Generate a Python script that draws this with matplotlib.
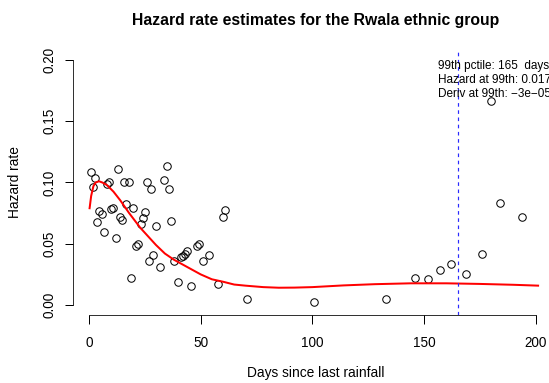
import numpy as np
import matplotlib
matplotlib.use("Agg")
import matplotlib.pyplot as plt

plt.rcParams["font.family"] = ["Liberation Sans", "DejaVu Sans"]

# observed hazard estimates (days since last rainfall, hazard)
days = [0.9, 2.9, 2.0, 13.0, 35.0, 8.1, 9.1, 15.9, 18.0, 25.8, 27.9, 33.8, 36.0,
        4.7, 5.8, 3.8, 9.8, 10.9, 13.8, 14.9, 16.7, 19.7, 24.9, 24.2, 23.5,
        6.8, 11.9, 29.9, 36.9, 21.1, 22.0, 28.8, 27.0, 31.8, 37.9, 41.0, 42.3,
        43.2, 44.1, 48.2, 49.1, 50.9, 53.9, 18.8, 40.0, 45.6, 57.9, 59.9, 61.1,
        70.9, 100.8, 132.9, 146.0, 151.8, 157.0, 161.9, 168.8, 175.8, 179.9,
        183.9, 193.9]
hazard = [0.1086, 0.1037, 0.0963, 0.1108, 0.1135, 0.0988, 0.1002, 0.1002, 0.1002,
          0.1000, 0.0945, 0.1018, 0.0943, 0.0766, 0.0745, 0.0676, 0.0782, 0.0792,
          0.0717, 0.0691, 0.0824, 0.0788, 0.0762, 0.0712, 0.0665, 0.0600, 0.0543,
          0.0641, 0.0682, 0.0478, 0.0500, 0.0408, 0.0361, 0.0310, 0.0361, 0.0392,
          0.0404, 0.0420, 0.0438, 0.0478, 0.0502, 0.0363, 0.0406, 0.0218, 0.0186,
          0.0155, 0.0169, 0.0716, 0.0773, 0.0047, 0.0022, 0.0049, 0.0223, 0.0210,
          0.0288, 0.0337, 0.0253, 0.0419, 0.1668, 0.0835, 0.0716]

# smoothed hazard curve
fit_days = [0.3, 1, 2, 3, 4.5, 6, 8, 11, 14, 18, 23, 27, 30, 34, 38, 42, 46, 50,
            55, 60, 65, 70, 78, 85, 92, 100, 114, 128, 144, 160, 175, 190, 201]
fit_haz = [0.079, 0.089, 0.097, 0.100, 0.101, 0.100, 0.098, 0.0925, 0.0855, 0.075,
           0.063, 0.055, 0.049, 0.042, 0.037, 0.033, 0.029, 0.025, 0.021, 0.019,
           0.0167, 0.0158, 0.0146, 0.0141, 0.0142, 0.0146, 0.0160, 0.0170, 0.0177,
           0.0177, 0.0172, 0.0165, 0.0158]

p99 = 165
notes = ["99th pctile: 165  days", "Hazard at 99th: 0.017", "Deriv at 99th: \u22123e\u221205"]

fig = plt.figure(figsize=(549 / 72, 383 / 72), dpi=72)
# plot region runs past the right edge of the picture, as in the original
ax = fig.add_axes([72.7 / 549, 1 - 314.8 / 383, (559 - 72.7) / 549, (314.8 - 50.2) / 383])

ax.plot(days, hazard, "o", mfc="none", mec="black", ms=7.5, mew=1)
ax.plot(fit_days, fit_haz, color="red", lw=2)
ax.axvline(p99, color="#2a2aff", lw=1.2, ls=(0, (3, 3)))

lo, hi = 0.8, 202.3
ax.set_xlim(lo - 0.04 * (hi - lo), hi + 0.04 * (hi - lo))
ax.set_ylim(-0.008, 0.208)

ax.set_xticks([0, 50, 100, 150, 200])
ax.set_yticks([0.0, 0.05, 0.10, 0.15, 0.20])
ax.set_yticklabels(["0.00", "0.05", "0.10", "0.15", "0.20"], rotation=90, va="center")
ax.tick_params(direction="out", length=8.5, width=1, labelsize=13.5)
ax.tick_params(axis="x", pad=13)
ax.tick_params(axis="y", pad=8)
for s in ["top", "right"]:
    ax.spines[s].set_visible(False)
ax.spines["left"].set_bounds(0, 0.2)
ax.spines["bottom"].set_bounds(0, 200)

ax.set_xlabel("Days since last rainfall", fontsize=13.8, labelpad=16)
ax.set_ylabel("Hazard rate", fontsize=13.8, labelpad=20)
ax.set_title("Hazard rate estimates for the Rwala ethnic group", fontsize=15.8,
             fontweight="bold", pad=25)

for i, t in enumerate(notes):
    ax.text(156.3, 0.1951 - i * 0.0115, t, fontsize=11.8, va="center", ha="left",
            clip_on=False)

fig.savefig("out.png", dpi=72)
